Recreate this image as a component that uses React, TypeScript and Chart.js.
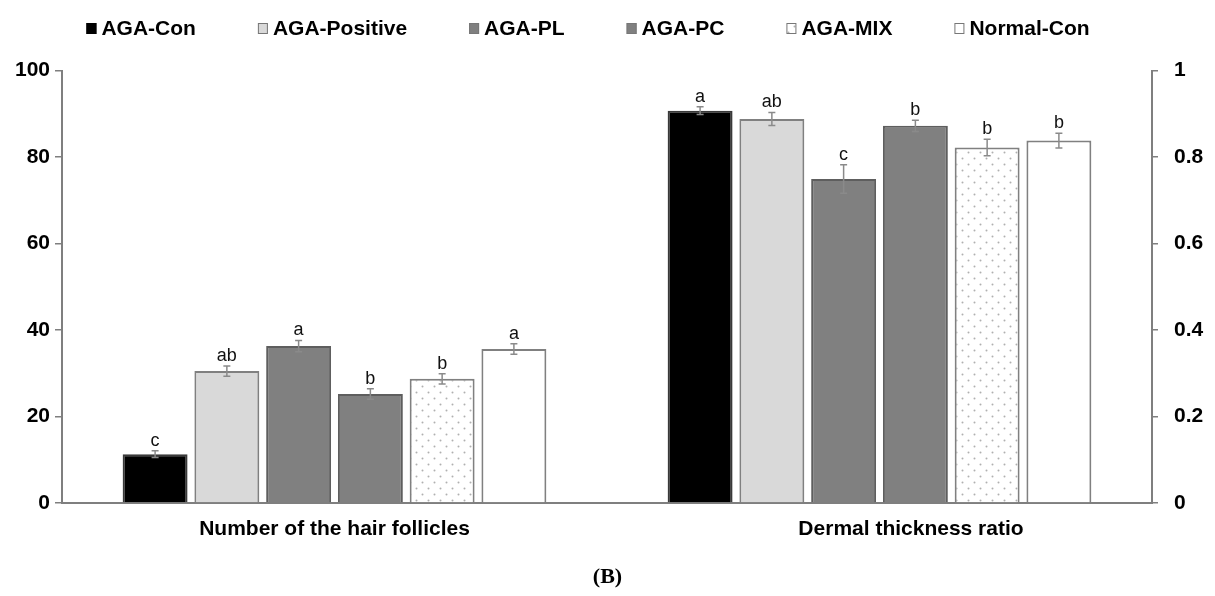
import React, { useEffect, useRef } from 'react';
import { Chart, registerables } from 'chart.js';

Chart.register(...registerables);

// ---- data ----
const groups = ['AGA-Con', 'AGA-Positive', 'AGA-PL', 'AGA-PC', 'AGA-MIX', 'Normal-Con'];
const categories = ['Number of the hair follicles', 'Dermal thickness ratio'];
const follicles = [11.3, 30.5, 36.3, 25.2, 28.7, 35.6];
const follicleErr = [0.8, 1.2, 1.3, 1.2, 1.2, 1.2];
const follicleLetters = ['c', 'ab', 'a', 'b', 'b', 'a'];
const dermal = [0.907, 0.888, 0.749, 0.872, 0.822, 0.838];
const dermalErr = [0.009, 0.015, 0.033, 0.013, 0.019, 0.017];
const dermalLetters = ['a', 'ab', 'c', 'b', 'b', 'b'];
const leftAxis = { min: 0, max: 100, step: 20 };
const rightAxis = { min: 0, max: 1, step: 0.2 };

// ---- styles ----
const fills = ['#000000', '#d9d9d9', '#808080', '#808080', 'PATTERN', '#ffffff'];
const borders = ['#3a3a3a', '#808080', '#5e5e5e', '#5e5e5e', '#808080', '#808080'];
const AXIS = '#7f7f7f';
const FONT = "Arial, 'Liberation Sans', sans-serif";

function makeDotPattern(ctx: CanvasRenderingContext2D) {
  const c = document.createElement('canvas');
  c.width = 12;
  c.height = 12;
  const p = c.getContext('2d')!;
  p.fillStyle = '#ffffff';
  p.fillRect(0, 0, 12, 12);
  p.fillStyle = '#b0b0b0';
  p.beginPath();
  p.arc(2.5, 2.5, 1, 0, Math.PI * 2);
  p.arc(8.5, 8.5, 1, 0, Math.PI * 2);
  p.fill();
  return ctx.createPattern(c, 'repeat');
}

export default function App() {
  const ref = useRef<HTMLCanvasElement | null>(null);

  useEffect(() => {
    document.body.style.margin = '0';
    const canvas = ref.current!;
    const ctx = canvas.getContext('2d')!;
    const pattern = makeDotPattern(ctx);
    const fillOf = (i: number) => (fills[i] === 'PATTERN' ? pattern : fills[i]);

    const datasets: any[] = [];
    groups.forEach((g, i) => {
      datasets.push({
        label: g,
        data: [follicles[i], null],
        yAxisID: 'y',
        backgroundColor: fillOf(i),
        borderColor: borders[i],
        borderWidth: 2,
        borderSkipped: 'bottom',
        skipNull: true,
      });
    });
    groups.forEach((g, i) => {
      datasets.push({
        label: g,
        data: [null, dermal[i]],
        yAxisID: 'y2',
        backgroundColor: fillOf(i),
        borderColor: borders[i],
        borderWidth: 2,
        borderSkipped: 'bottom',
        skipNull: true,
      });
    });

    const errorPlugin = {
      id: 'errorBars',
      afterDatasetsDraw(chart: any) {
        const c = chart.ctx;
        chart.data.datasets.forEach((ds: any, d: number) => {
          const g = d < groups.length ? 0 : 1;
          const s = d % groups.length;
          const vals = g === 0 ? follicles : dermal;
          const errs = g === 0 ? follicleErr : dermalErr;
          const letters = g === 0 ? follicleLetters : dermalLetters;
          const scale = chart.scales[g === 0 ? 'y' : 'y2'];
          const el = chart.getDatasetMeta(d).data[g];
          if (!el) return;
          const x = el.x;
          const yT = scale.getPixelForValue(vals[s] + errs[s]);
          const yB = scale.getPixelForValue(vals[s] - errs[s]);
          c.save();
          c.strokeStyle = '#8a8a8a';
          c.lineWidth = 1.5;
          c.beginPath();
          c.moveTo(x, yT);
          c.lineTo(x, yB);
          c.moveTo(x - 3.5, yT);
          c.lineTo(x + 3.5, yT);
          c.moveTo(x - 3.5, yB);
          c.lineTo(x + 3.5, yB);
          c.stroke();
          c.fillStyle = '#111111';
          c.font = `18px ${FONT}`;
          c.textAlign = 'center';
          c.textBaseline = 'alphabetic';
          c.fillText(letters[s], x, yT - 5);
          c.restore();
        });
      },
    };

    const legendPlugin = {
      id: 'topLegend',
      afterDraw(chart: any) {
        const c = chart.ctx;
        c.save();
        c.font = `bold 21px ${FONT}`;
        const box = 10;
        const gapText = 5;
        const gapItem = 62;
        const widths = groups.map((g) => box + gapText + c.measureText(g).width);
        const total = widths.reduce((a, b) => a + b, 0) + gapItem * (groups.length - 1);
        let x = 588 - total / 2;
        const cy = 28;
        groups.forEach((g, i) => {
          c.fillStyle = fillOf(i) as any;
          c.fillRect(x, cy - 5, box, box + 1);
          c.strokeStyle = i === 0 ? '#000000' : '#777777';
          c.lineWidth = 1;
          c.strokeRect(x + 0.5, cy - 4.5, box - 1, box);
          c.fillStyle = '#000000';
          c.textAlign = 'left';
          c.textBaseline = 'middle';
          c.fillText(g, x + box + gapText, cy + 1);
          x += widths[i] + gapItem;
        });
        c.restore();
      },
    };

    const tickFont = { family: FONT, size: 21, weight: 'bold' as const };

    const chart = new Chart(canvas, {
      type: 'bar',
      data: { labels: categories, datasets },
      options: {
        animation: false,
        responsive: false,
        layout: { padding: { top: 70.5, left: 0, right: 0, bottom: 0 } },
        datasets: {
          bar: { categoryPercentage: 0.79, barPercentage: 0.905 },
        } as any,
        plugins: {
          legend: { display: false },
          tooltip: { enabled: false },
          title: {
            display: true,
            position: 'bottom',
            text: '(B)',
            color: '#000000',
            font: { family: "'Liberation Serif', 'DejaVu Serif', serif", size: 22, weight: 'bold' },
            padding: { top: 0, bottom: 5 },
          },
        },
        scales: {
          x: {
            grid: { display: false, drawTicks: false },
            border: { display: true, color: AXIS, width: 2 },
            ticks: {
              color: '#000000',
              padding: 14,
              font: tickFont,
              callback: (v: any, i: number) =>
                i === 1 ? '\u2003\u2003\u2003' + categories[1] : categories[i],
            },
            afterFit: (s: any) => {
              s.height = 61.6;
            },
          },
          y: {
            position: 'left',
            min: leftAxis.min,
            max: leftAxis.max,
            ticks: {
              stepSize: leftAxis.step,
              color: '#000000',
              padding: 5,
              font: tickFont,
            },
            grid: { display: true, drawOnChartArea: false, drawTicks: true, tickLength: 7, color: AXIS, lineWidth: 1.5 },
            border: { display: true, color: AXIS, width: 2 },
            afterFit: (s: any) => {
              s.width = 62;
            },
          },
          y2: {
            position: 'right',
            min: rightAxis.min,
            max: rightAxis.max,
            ticks: {
              stepSize: rightAxis.step,
              color: '#000000',
              padding: 16,
              font: tickFont,
              callback: (v: any) => String(Number(Number(v).toFixed(2))),
            },
            grid: { display: true, drawOnChartArea: false, drawTicks: true, tickLength: 6, color: AXIS, lineWidth: 1.5 },
            border: { display: true, color: AXIS, width: 2 },
            afterFit: (s: any) => {
              s.width = 63;
            },
          },
        },
      },
      plugins: [errorPlugin, legendPlugin],
    });

    return () => chart.destroy();
  }, []);

  return (
    <div style={{ width: 1215, height: 596, background: '#ffffff' }}>
      <canvas ref={ref} width={1215} height={596} />
    </div>
  );
}
